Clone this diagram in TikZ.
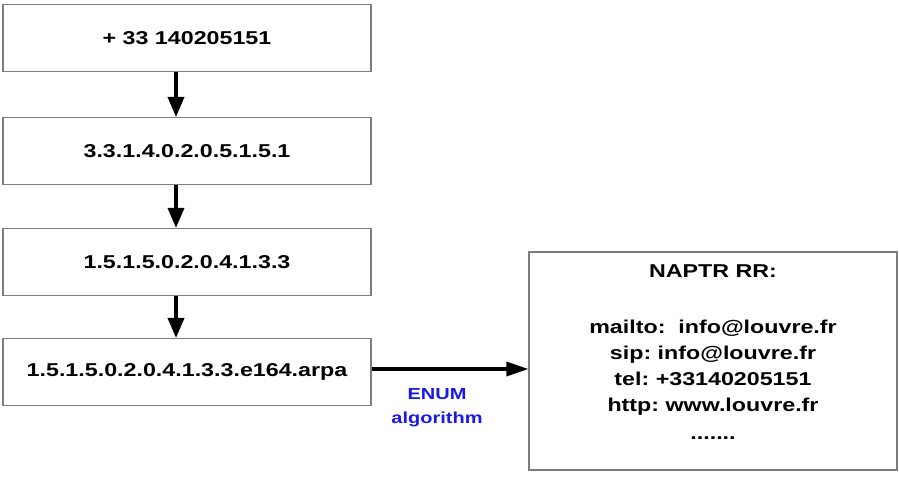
\documentclass[tikz,border=0pt]{standalone}
\usepackage{fontspec}
\setmainfont{Liberation Sans}[FakeStretch=1.25]
\usetikzlibrary{arrows.meta}
\definecolor{boxgray}{RGB}{125,125,125}
\definecolor{enumblue}{RGB}{25,25,235}
\tikzset{
  numbox/.style={draw=boxgray, line width=1.1pt, fill=white, minimum width=368pt, minimum height=67pt, inner sep=0pt,
    font=\fontsize{18.6}{22}\selectfont\bfseries},
  flowarrow/.style={line width=3.5pt, -{Triangle[length=20pt,width=16pt]}},
  sidearrow/.style={line width=3.3pt, -{Triangle[length=22pt,width=14pt]}},
  enumlabel/.style={text=enumblue, align=center, font=\fontsize{16}{24}\selectfont\bfseries, inner sep=0pt},
  naptrbox/.style={draw=boxgray, line width=1.1pt, minimum width=368pt, minimum height=218pt, inner sep=0pt},
  naptrtext/.style={align=center, font=\fontsize{18.6}{26}\selectfont\bfseries, inner sep=0pt}
}
\begin{document}
\frenchspacing
\begin{tikzpicture}[x=1pt,y=-1pt]
\useasboundingbox[fill=white] (0,0) rectangle (899,483);
\node[numbox] (b1) at (187,38) {+ 33 140205151};
\node[numbox] (b2) at (187,151) {3.3.1.4.0.2.0.5.1.5.1};
\node[numbox] (b3) at (187,262) {1.5.1.5.0.2.0.4.1.3.3};
\node[numbox] (b4) at (187,372) {1.5.1.5.0.2.0.4.1.3.3.e164.arpa};
\node[naptrbox] (n) at (713,361) {};
\node[naptrtext, anchor=north] (nt) at ([yshift=-13pt]n.north) {NAPTR RR:\\[4pt]\\mailto:\ \ info@louvre.fr\\sip: info@louvre.fr\\tel: +33140205151\\http: www.louvre.fr\\[2pt].......};
\draw[flowarrow] ([xshift=-11pt]b1.south) -- ([xshift=-11pt]b2.north);
\draw[flowarrow] ([xshift=-11pt]b2.south) -- ([xshift=-11pt]b3.north);
\draw[flowarrow] ([xshift=-11pt]b3.south) -- ([xshift=-11pt]b4.north);
\draw[sidearrow] ([yshift=3pt]b4.east) -- ([yshift=3pt]b4.east -| n.west);
\node[enumlabel] (enum) at (437,408) {ENUM\\algorithm};
\end{tikzpicture}
\end{document}
